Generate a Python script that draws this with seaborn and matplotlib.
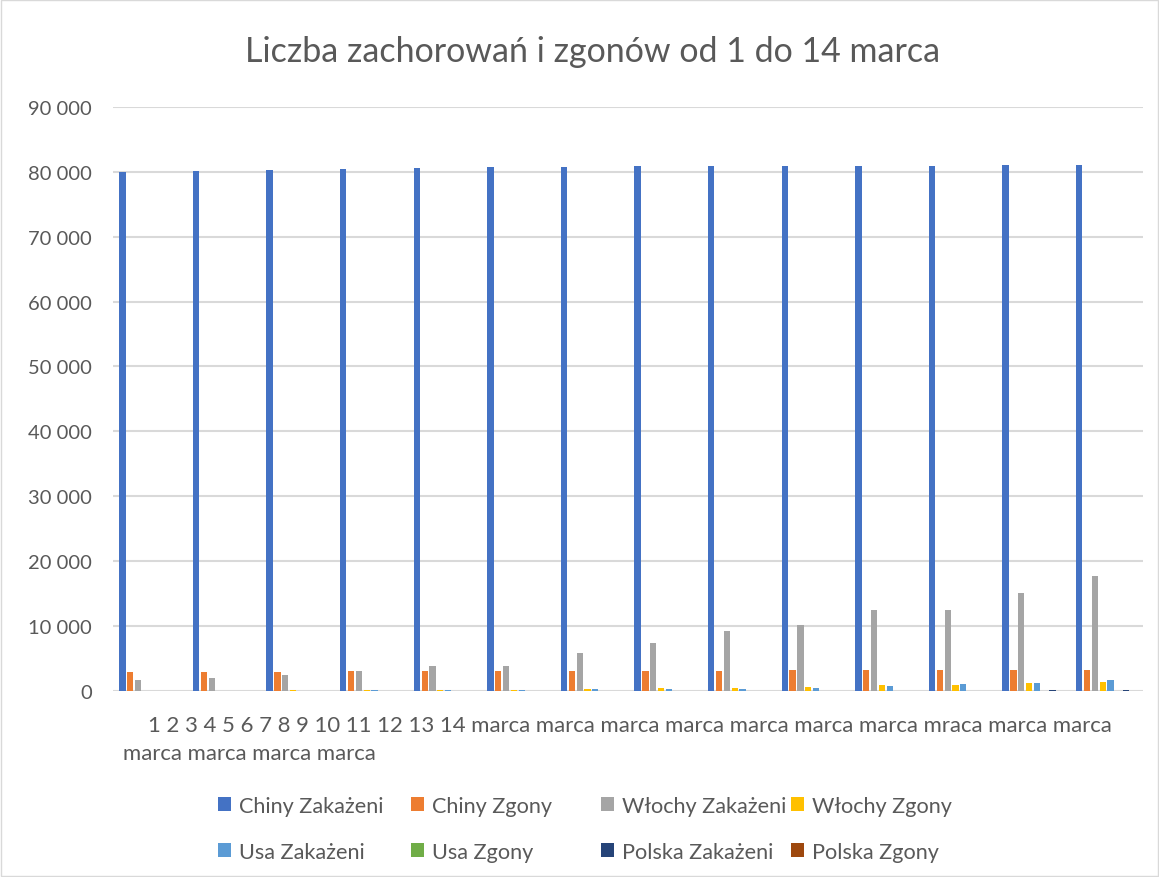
import pandas as pd
import numpy as np
import matplotlib.pyplot as plt
import seaborn as sns
from matplotlib.ticker import FuncFormatter
from matplotlib.patches import Rectangle

# data (cumulative, 1-14 March)
days = [str(d) for d in range(1, 15)]
chiny_zakazeni = [79968, 80174, 80303, 80422, 80565, 80711, 80813, 80859, 80904, 80924, 80955, 80981, 80991, 81021]
chiny_zgony = [2912, 2943, 2981, 3012, 3042, 3070, 3097, 3119, 3136, 3158, 3169, 3176, 3189, 3199]
wlochy_zakazeni = [1694, 2036, 2502, 3089, 3858, 3858, 5883, 7375, 9172, 10149, 12462, 12462, 15113, 17660]
wlochy_zgony = [34, 52, 79, 107, 148, 148, 233, 366, 463, 631, 827, 827, 1266, 1441]
usa_zakazeni = [30, 35, 40, 60, 70, 80, 213, 213, 213, 472, 696, 987, 1264, 1678]
usa_zgony = [1, 1, 6, 9, 11, 12, 14, 17, 19, 26, 28, 36, 40, 41]
polska_zakazeni = [0, 0, 0, 1, 1, 5, 6, 11, 17, 22, 31, 51, 68, 64]
polska_zgony = [0, 0, 0, 0, 0, 0, 0, 0, 0, 0, 0, 1, 2, 3]

series_names = ["Chiny Zakażeni", "Chiny Zgony", "Włochy Zakażeni", "Włochy Zgony",
                "Usa Zakażeni", "Usa Zgony", "Polska Zakażeni", "Polska Zgony"]
series_values = [chiny_zakazeni, chiny_zgony, wlochy_zakazeni, wlochy_zgony,
                 usa_zakazeni, usa_zgony, polska_zakazeni, polska_zgony]
colors = ["#4472C4", "#ED7D31", "#A5A5A5", "#FFC000",
          "#5B9BD5", "#70AD47", "#264478", "#9E480E"]

label_line1 = "1 2 3 4 5 6 7 8 9 10 11 12 13 14 marca marca marca marca marca marca marca mraca marca marca"
label_line2 = "marca marca marca marca"

# long format table for seaborn
rows = []
for name, vals in zip(series_names, series_values):
    for d, v in zip(days, vals):
        rows.append({"Dzien": d, "Seria": name, "Liczba": v})
df = pd.DataFrame(rows)

sns.set_style("white")
plt.rcParams["font.family"] = ["Lato", "DejaVu Sans"]
text_color = "#595959"

fig = plt.figure(figsize=(11.59, 8.78), dpi=100)
ax = fig.add_axes([0.0975, 0.212, 0.889, 0.665])

sns.barplot(data=df, x="Dzien", y="Liczba", hue="Seria", hue_order=series_names,
            order=days, palette=colors, width=0.85, gap=0.2, ax=ax,
            errorbar=None, legend=True, saturation=1, linewidth=0)

ax.set_ylim(0, 90000)
ax.set_xlim(-0.5, 13.5)
ax.set_yticks(np.arange(0, 90001, 10000))
ax.yaxis.set_major_formatter(FuncFormatter(lambda v, p: f"{int(v):,}".replace(",", " ")))
ax.grid(axis="y", color="#D9D9D9", linewidth=1.5)
ax.set_axisbelow(True)
for s in ax.spines.values():
    s.set_visible(False)
ax.tick_params(axis="y", length=0, labelsize=14.5, labelcolor=text_color, pad=15)
ax.set_xticks(range(len(days)))
ax.set_xticklabels([])
ax.tick_params(axis="x", length=0)
ax.set_xlabel("")
ax.set_ylabel("")

# category labels as shown in the original (wrapped text)
fig.text(148 / 1159, 1 - 726 / 878, label_line1, fontsize=15.9, color=text_color, va="center", ha="left")
fig.text(123 / 1159, 1 - 754 / 878, label_line2, fontsize=15.9, color=text_color, va="center", ha="left")

fig.text(593 / 1159, 1 - 52 / 878, "Liczba zachorowań i zgonów od 1 do 14 marca",
         fontsize=24.5, color=text_color, ha="center", va="center")

handles, labels = ax.get_legend_handles_labels()
ax.get_legend().remove()
# one small legend per column, so the columns sit where they do in the original
col_x = [218, 411, 601, 791]
for i, x in enumerate(col_x):
    leg = fig.legend([handles[i], handles[i + 4]], [labels[i], labels[i + 4]],
                     loc="upper left", bbox_to_anchor=(x / 1159, 1 - 797 / 878),
                     frameon=False, fontsize=15.6, labelcolor=text_color, handlelength=0.6,
                     handleheight=0.6, handletextpad=0.35, labelspacing=1.2,
                     borderpad=0, borderaxespad=0)

fig.patches.append(Rectangle((0.001, 0.001), 0.998, 0.998, transform=fig.transFigure,
                             fill=False, edgecolor="#D9D9D9", linewidth=1))

plt.savefig("out.png", dpi=100)
